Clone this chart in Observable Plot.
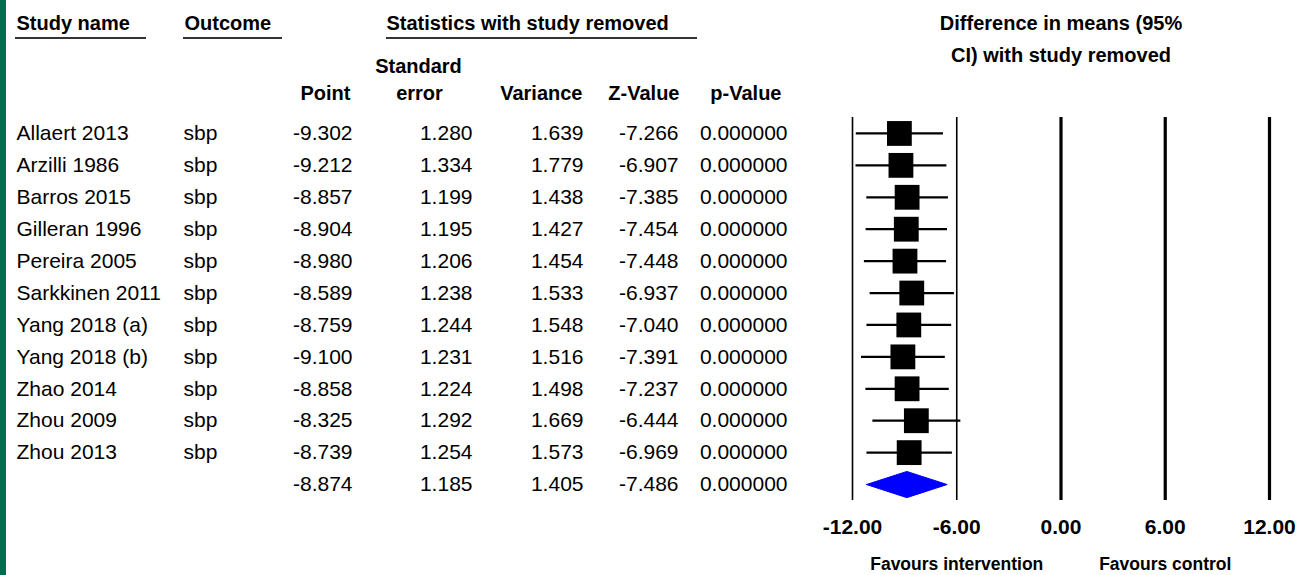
<!DOCTYPE html>
<html><head><meta charset="utf-8">
<script src="https://cdn.jsdelivr.net/npm/d3@7"></script>
<script src="https://cdn.jsdelivr.net/npm/@observablehq/plot@0.6"></script>
<style>
html,body{margin:0;padding:0;background:#fff;}
#wrap{position:relative;width:1304px;height:575px;overflow:hidden;background:#fff;}
#strip{position:absolute;left:0;top:0;width:6px;height:575px;background:#016f4f;}
</style></head>
<body><div id="wrap"><div id="strip"></div></div>
<script>
// ---- data (last entry = pooled estimate with all studies) ----
const studies   = ["Allaert 2013","Arzilli 1986","Barros 2015","Gilleran 1996","Pereira 2005","Sarkkinen 2011","Yang 2018 (a)","Yang 2018 (b)","Zhao 2014","Zhou 2009","Zhou 2013",""];
const outcomes  = ["sbp","sbp","sbp","sbp","sbp","sbp","sbp","sbp","sbp","sbp","sbp",""];
const points    = [-9.302,-9.212,-8.857,-8.904,-8.980,-8.589,-8.759,-9.100,-8.858,-8.325,-8.739,-8.874];
const stdErrors = [1.280,1.334,1.199,1.195,1.206,1.238,1.244,1.231,1.224,1.292,1.254,1.185];
const variances = [1.639,1.779,1.438,1.427,1.454,1.533,1.548,1.516,1.498,1.669,1.573,1.405];
const zValues   = [-7.266,-6.907,-7.385,-7.454,-7.448,-6.937,-7.040,-7.391,-7.237,-6.444,-6.969,-7.486];
const pValues   = [0,0,0,0,0,0,0,0,0,0,0,0];
const lowerCI   = [-11.811,-11.827,-11.207,-11.246,-11.344,-11.015,-11.197,-11.513,-11.257,-10.857,-11.197,-11.197];
const upperCI   = [-6.793,-6.597,-6.507,-6.562,-6.616,-6.163,-6.321,-6.687,-6.459,-5.793,-6.281,-6.551];
const gridTicks = [-12,-6,0,6,12];
const favourLabels = ["Favours intervention","Favours control"];
const favourAt  = [-6, 6];
const titleLines = ["Difference in means (95%","CI) with study removed"];

const rows = studies.map((s,i)=>({i, study:s, outcome:outcomes[i], point:points[i], se:stdErrors[i],
  variance:variances[i], z:zValues[i], p:pValues[i], lower:lowerCI[i], upper:upperCI[i], summary: i===studies.length-1}));
const studyRows = rows.filter(d=>!d.summary);
const sumRows = rows.filter(d=>d.summary);
const diamond = sumRows.flatMap(d=>[
  {x:d.lower,y:d.i},{x:d.point,y:d.i-0.41},{x:d.upper,y:d.i},{x:d.point,y:d.i+0.41},{x:d.lower,y:d.i}]);

const FONT = "'Liberation Sans', Arial, Helvetica, sans-serif";
const ML = 852, MT = 117;
const BODY = 21, HEAD = 20;

function col(text, pos, anchor){
  return Plot.text(rows, {y:"i", text, frameAnchor:"left", dx: pos-ML, textAnchor:anchor,
    lineAnchor:"middle", fontSize:BODY, fill:"#000"});
}
function head(label, pos, ycenter, anchor){
  return Plot.text([label], {text:d=>d, frameAnchor:"top-left", dx: pos-ML, dy: ycenter-MT,
    textAnchor:anchor, lineAnchor:"middle", fontSize:HEAD, fontWeight:"bold", fill:"#000"});
}

const chart = Plot.plot({
  width:1304, height:575,
  marginLeft:ML, marginRight:35, marginTop:MT, marginBottom:75,
  style:{fontFamily:FONT, background:"transparent", color:"#000", overflow:"visible"},
  x:{domain:[-12,12]},
  y:{domain:[-0.5, rows.length-0.5], reverse:true, axis:null},
  marks:[
    Plot.ruleX(gridTicks.filter(d=>d<0), {stroke:"#000", strokeWidth:1.6}),
    Plot.ruleX(gridTicks.filter(d=>d>=0), {stroke:"#000", strokeWidth:3.2}),
    Plot.axisX(gridTicks, {tickSize:0, tickPadding:19, tickFormat:d=>d.toFixed(2),
      fontSize:21, fontWeight:"bold", label:null}),
    Plot.link(studyRows, {x1:"lower", x2:"upper", y1:"i", y2:"i", stroke:"#000", strokeWidth:2.3}),
    Plot.dot(studyRows, {x:"point", y:"i", symbol:"square", r:14, fill:"#000", stroke:null}),
    Plot.line(diamond, {x:"x", y:"y", fill:"#0000ff", stroke:"#0000ff", strokeWidth:1}),
    // table body
    col(d=>d.study, 16, "start"),
    col(d=>d.outcome, 183, "start"),
    col(d=>d.point.toFixed(3), 352, "end"),
    col(d=>d.se.toFixed(3), 472, "end"),
    col(d=>d.variance.toFixed(3), 583, "end"),
    col(d=>d.z.toFixed(3), 678, "end"),
    col(d=>d.p.toFixed(6), 787, "end"),
    // table headers
    head("Study name", 16, 23, "start"),
    head("Outcome", 184, 23, "start"),
    head("Statistics with study removed", 386, 23, "start"),
    head("Standard", 418, 66, "middle"),
    head("Point", 350, 93, "end"),
    head("error", 419, 93, "middle"),
    head("Variance", 582, 93, "end"),
    head("Z-Value", 679, 93, "end"),
    head("p-Value", 781, 93, "end"),
    // plot title
    Plot.text([titleLines[0]], {text:d=>d, frameAnchor:"top", dy:23-MT, lineAnchor:"middle", fontSize:HEAD, fontWeight:"bold", fill:"#000"}),
    Plot.text([titleLines[1]], {text:d=>d, frameAnchor:"top", dy:55-MT, lineAnchor:"middle", fontSize:HEAD, fontWeight:"bold", fill:"#000"}),
    // favours labels
    Plot.text(favourLabels, {x:(d,i)=>favourAt[i], text:d=>d, frameAnchor:"bottom", dy:64, lineAnchor:"middle", fontSize:17.5, fontWeight:"bold", fill:"#000"})
  ]
});

// header underlines
const underlines = [[15,146],[183,282],[386,697]];
d3.select(chart).append("g").attr("stroke","#333").attr("stroke-width",2)
  .selectAll("line").data(underlines).join("line")
  .attr("x1",d=>d[0]).attr("x2",d=>d[1]).attr("y1",38).attr("y2",38);

chart.style.position = "absolute";
chart.style.left = "0px";
chart.style.top = "0px";
document.getElementById("wrap").appendChild(chart);
</script>
</body></html>
